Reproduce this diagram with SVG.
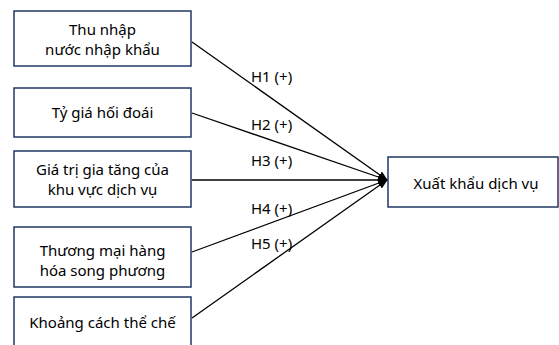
<svg xmlns="http://www.w3.org/2000/svg" width="559" height="345" viewBox="0 0 559 345">
  <style>
    .box { fill: #ffffff; stroke: #1f3864; stroke-width: 1.5; }
    .lbl { font-family: "Noto Sans", "Liberation Sans", sans-serif; font-size: 15px; fill: #000000; text-anchor: middle; }
    .hyp { font-family: "Noto Sans", "Liberation Sans", sans-serif; font-size: 15px; fill: #000000; }
    .edge { stroke: #000000; stroke-width: 1.3; fill: none; marker-end: url(#head); }
  </style>
  <defs>
    <marker id="head" markerUnits="userSpaceOnUse" markerWidth="10" markerHeight="8" refX="9" refY="4" orient="auto">
      <path d="M0,0 L10,4 L0,8 Z" fill="#000000"/>
    </marker>
  </defs>
  <rect width="559" height="345" fill="#ffffff"/>

  <g id="connectors">
    <line class="edge" x1="192" y1="42" x2="387" y2="180"/>
    <line class="edge" x1="192" y1="113" x2="387" y2="180"/>
    <line class="edge" x1="192" y1="180" x2="387" y2="180"/>
    <line class="edge" x1="192" y1="252" x2="387" y2="180"/>
    <line class="edge" x1="192" y1="318" x2="387" y2="180"/>
    <text class="hyp" x="251" y="82">H1 (+)</text>
    <text class="hyp" x="251" y="130">H2 (+)</text>
    <text class="hyp" x="251" y="166">H3 (+)</text>
    <text class="hyp" x="251" y="214">H4 (+)</text>
    <text class="hyp" x="251" y="249">H5 (+)</text>
  </g>

  <g id="thu-nhap">
    <rect class="box" x="14" y="11" width="177" height="55"/>
    <text class="lbl" x="102.5" y="35">Thu nhập</text>
    <text class="lbl" x="102.5" y="55">nước nhập khẩu</text>
  </g>

  <g id="ty-gia">
    <rect class="box" x="14" y="88" width="177" height="49"/>
    <text class="lbl" x="102.5" y="118">Tỷ giá hối đoái</text>
  </g>

  <g id="gia-tri-gia-tang">
    <rect class="box" x="14" y="151" width="177" height="56"/>
    <text class="lbl" x="102.5" y="175">Giá trị gia tăng của</text>
    <text class="lbl" x="102.5" y="195">khu vực dịch vụ</text>
  </g>

  <g id="thuong-mai">
    <rect class="box" x="14" y="227" width="177" height="60"/>
    <text class="lbl" x="102.5" y="256">Thương mại hàng</text>
    <text class="lbl" x="102.5" y="276">hóa song phương</text>
  </g>

  <g id="khoang-cach">
    <rect class="box" x="14" y="297" width="177" height="60"/>
    <text class="lbl" x="102.5" y="328">Khoảng cách thể chế</text>
  </g>

  <g id="xuat-khau">
    <rect class="box" x="388" y="157" width="170" height="50"/>
    <text class="lbl" x="476" y="189">Xuất khẩu dịch vụ</text>
  </g>
</svg>
